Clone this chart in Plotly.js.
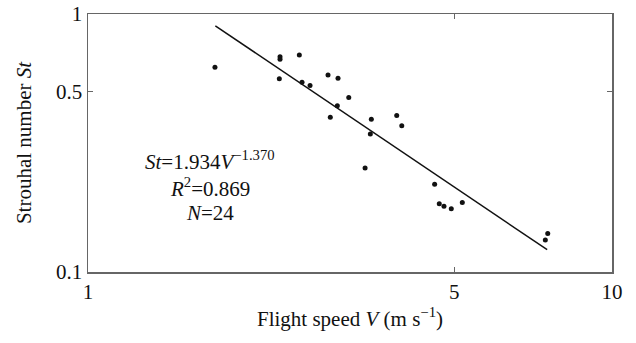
<!DOCTYPE html>
<html>
<head>
<meta charset="utf-8">
<script src="https://cdn.plot.ly/plotly-3.0.1.min.js"></script>
<style>html,body{margin:0;padding:0;background:#fff;}#chart{width:636px;height:343px;}</style>
</head>
<body>
<div id="chart"></div>
<script>
// Observed data: flight speed V (m/s) and Strouhal number St
const speedV = [1.747, 2.325, 2.325, 2.318, 2.531, 2.561, 2.653, 2.871, 3.000, 3.145, 2.991, 2.900,
                3.473, 3.458, 3.883, 3.970, 3.379, 4.587, 4.681, 4.779, 4.935, 5.180, 7.54, 7.46];
const strouhal = [0.622, 0.683, 0.668, 0.561, 0.694, 0.544, 0.528, 0.580, 0.563, 0.475, 0.441, 0.398,
                  0.391, 0.343, 0.404, 0.369, 0.253, 0.219, 0.184, 0.180, 0.176, 0.186, 0.141, 0.133];
// Fitted power-law line endpoints (St = 1.934 V^-1.370)
const fitV = [1.75, 7.52];
const fitSt = [0.900, 0.122];
// Tick labels
const xTicks = [1, 5, 10];
const xTickText = ['1', '5', '10'];
const yTicks = [0.1, 0.5, 1];
const yTickText = ['0.1', '0.5', '1'];
const eqLines = ['<i>St</i>=1.934<i>V</i><sup>\u22121.370</sup>', '<i>R</i><sup>2</sup>=0.869', '<i>N</i>=24'];

const font = {family: '"Liberation Serif", "Times New Roman", serif', color: '#111', size: 21};

const traces = [
  {x: fitV, y: fitSt, mode: 'lines', type: 'scatter', line: {color: '#111', width: 1.5}, hoverinfo: 'skip'},
  {x: speedV, y: strouhal, mode: 'markers', type: 'scatter', marker: {color: '#111', size: 5}}
];

const axisCommon = {
  showgrid: false, zeroline: false, showline: true, linecolor: '#666', linewidth: 1.5,
  mirror: 'ticks', ticks: 'inside', ticklen: 5, tickcolor: '#666', tickwidth: 1.2,
  tickfont: font
};

const eqY = [0.434, 0.329, 0.229];
const annotations = eqLines.map((t, i) => ({
  text: t, xref: 'paper', yref: 'paper', x: 0.232, y: eqY[i], showarrow: false,
  xanchor: 'center', yanchor: 'middle', font: font
}));

const layout = {
  width: 636, height: 343,
  margin: {l: 88, r: 24, t: 14, b: 71},
  paper_bgcolor: '#fff', plot_bgcolor: '#fff',
  showlegend: false,
  font: font,
  xaxis: Object.assign({}, axisCommon, {
    type: 'log', range: [0, 1], tickvals: xTicks, ticktext: xTickText,
    title: {text: 'Flight speed <i>V</i> (m s<sup>\u22121</sup>)', font: font, standoff: 8}
  }),
  yaxis: Object.assign({}, axisCommon, {
    type: 'log', range: [-1, 0], tickvals: yTicks, ticktext: yTickText,
    title: {text: 'Strouhal number <i>St</i>', font: font, standoff: 18}
  }),
  annotations: annotations
};

Plotly.newPlot('chart', traces, layout, {displayModeBar: false, staticPlot: true});
</script>
</body>
</html>
